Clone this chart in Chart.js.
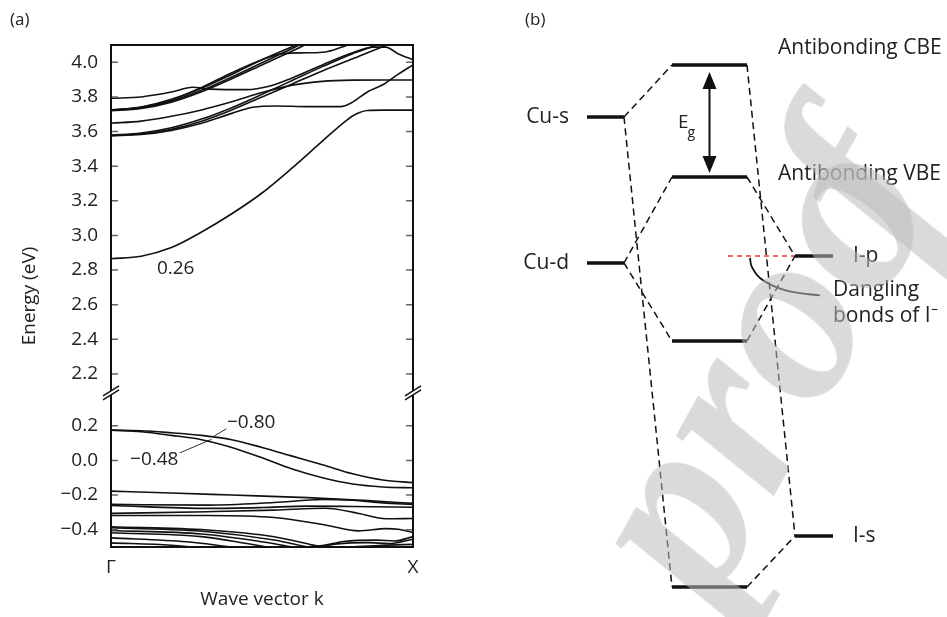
<!DOCTYPE html>
<html>
<head>
<meta charset="utf-8">
<script src="https://cdn.jsdelivr.net/npm/chart.js@4.4.1/dist/chart.umd.min.js"></script>
<style>
  html, body { margin: 0; padding: 0; background: #fff; }
  body { width: 947px; height: 617px; position: relative; overflow: hidden; font-family: "Open Sans", sans-serif; color: #222; }
  .panel { position: absolute; top: 0; height: 617px; }
  #panelA { left: 0; width: 470px; }
  #panelB { left: 470px; width: 477px; }
  .tag { position: absolute; top: 10px; font-size: 17px; line-height: 1; }
  #watermark {
    position: absolute; left: 755px; top: 357px;
    transform: translate(-50%, -50%) rotate(-61deg);
    font: italic bold 250px "Liberation Serif", serif; line-height: 1;
    color: rgba(186, 186, 186, 0.54); white-space: nowrap; pointer-events: none;
  }
  #watermark .tight { margin-left: -0.28em; }
</style>
</head>
<body>
<div class="panel" id="panelA"><canvas id="bandChart"></canvas></div>
<div class="panel" id="panelB"><canvas id="levelChart"></canvas></div>
<div class="tag" style="left:10px">(a)</div>
<div class="tag" style="left:525px">(b)</div>
<div id="watermark">proo<span class="tight">f</span></div>
<script>
// ─── BAND STRUCTURE DATA (k from Γ to X, energy in eV)
const kTicks = [0, 1];
const kLabels = ["Γ", "X"];
const upperTicks = [2.2, 2.4, 2.6, 2.8, 3.0, 3.2, 3.4, 3.6, 3.8, 4.0];
const lowerTicks = [-0.4, -0.2, 0.0, 0.2];
const upperRange = [2.09, 4.1];
const lowerRange = [-0.5, 0.39];

// conduction bands
const cb1 = [[0,2.865],[0.1,2.88],[0.2,2.93],[0.3,3.02],[0.4,3.125],[0.5,3.245],[0.6,3.39],[0.7,3.545],[0.78,3.665],[0.81,3.7],[0.85,3.722],[0.9,3.724],[1,3.724]];
const cb2 = [[0,3.575],[0.1,3.583],[0.2,3.607],[0.3,3.648],[0.4,3.705],[0.47,3.74],[0.55,3.748],[0.65,3.744],[0.76,3.744],[0.8,3.77],[0.85,3.83],[0.9,3.87],[0.95,3.93],[1,3.985]];
const cb3 = [[0,3.577],[0.1,3.587],[0.2,3.613],[0.3,3.66],[0.4,3.725],[0.5,3.8],[0.6,3.875],[0.7,3.95],[0.8,4.02],[0.9,4.09],[1,4.15]];
const cb4 = [[0,3.58],[0.1,3.592],[0.2,3.622],[0.3,3.672],[0.4,3.738],[0.5,3.815],[0.6,3.895],[0.7,3.975],[0.8,4.05],[0.88,4.1],[1,4.2]];
const cb5 = [[0,3.648],[0.1,3.66],[0.2,3.688],[0.3,3.725],[0.4,3.772],[0.5,3.825],[0.6,3.868],[0.7,3.89],[0.8,3.897],[0.9,3.898],[1,3.898]];
const cb6 = [[0,3.792],[0.1,3.8],[0.2,3.828],[0.27,3.856],[0.33,3.845],[0.45,3.842],[0.52,3.86],[0.6,3.91],[0.7,3.985],[0.8,4.055],[0.87,4.088],[0.91,4.088],[0.95,4.05],[1,4.015]];
const cb7 = [[0,3.72],[0.1,3.733],[0.2,3.77],[0.3,3.83],[0.4,3.905],[0.5,3.985],[0.6,4.065],[0.7,4.15]];
const cb8 = [[0,3.722],[0.1,3.736],[0.2,3.775],[0.3,3.838],[0.4,3.915],[0.5,3.998],[0.6,4.08],[0.7,4.165]];
const cb9 = [[0,3.724],[0.1,3.74],[0.2,3.782],[0.3,3.85],[0.4,3.93],[0.5,4.015],[0.6,4.09],[0.7,4.16]];
const cb10 = [[0,3.725],[0.1,3.742],[0.2,3.786],[0.3,3.855],[0.4,3.94],[0.5,4.015],[0.57,4.05],[0.65,4.055],[0.71,4.06],[0.76,4.085],[0.8,4.11]];
const conductionBands = [cb1, cb2, cb3, cb4, cb5, cb6, cb7, cb8, cb9, cb10];

// valence bands
const vb1 = [[0,0.175],[0.1,0.172],[0.2,0.16],[0.3,0.145],[0.4,0.12],[0.5,0.075],[0.6,0.025],[0.7,-0.025],[0.8,-0.077],[0.9,-0.113],[1,-0.128]];
const vb2 = [[0,0.175],[0.1,0.166],[0.2,0.145],[0.3,0.12],[0.4,0.075],[0.5,0.015],[0.6,-0.05],[0.7,-0.1],[0.8,-0.136],[0.9,-0.153],[1,-0.158]];
const vb3 = [[0,-0.177],[0.2,-0.188],[0.4,-0.2],[0.65,-0.215],[0.85,-0.232],[1,-0.248]];
const vb4 = [[0,-0.254],[0.32,-0.258],[0.54,-0.243],[0.7,-0.226],[0.8,-0.23],[0.9,-0.245],[1,-0.254]];
const vb5 = [[0,-0.26],[0.32,-0.277],[0.5,-0.272],[0.65,-0.264],[0.8,-0.266],[1,-0.27]];
const vb6 = [[0,-0.306],[0.32,-0.296],[0.54,-0.287],[0.71,-0.276],[0.82,-0.306],[0.91,-0.337],[1,-0.335]];
const vb7 = [[0,-0.318],[0.32,-0.318],[0.54,-0.33],[0.71,-0.373],[0.82,-0.407],[0.91,-0.394],[0.95,-0.397],[1,-0.416]];
const vb8 = [[0,-0.383],[0.32,-0.402],[0.54,-0.441],[0.67,-0.489],[0.75,-0.52]];
const vb9 = [[0,-0.389],[0.32,-0.412],[0.54,-0.46],[0.65,-0.5],[0.72,-0.52]];
const vb10 = [[0,-0.405],[0.3,-0.425],[0.5,-0.47],[0.6,-0.5],[0.68,-0.52]];
const vb11 = [[0,-0.418],[0.3,-0.44],[0.45,-0.48],[0.55,-0.51]];
const vb12 = [[0,-0.447],[0.25,-0.47],[0.4,-0.5],[0.48,-0.515]];
const vb13 = [[0,-0.476],[0.2,-0.49],[0.3,-0.505],[0.38,-0.515]];
const vb14 = [[0.55,-0.515],[0.62,-0.503],[0.7,-0.492],[0.77,-0.468],[0.88,-0.46],[0.94,-0.465],[1,-0.44]];
const vb15 = [[0.6,-0.52],[0.66,-0.508],[0.75,-0.482],[0.85,-0.475],[0.92,-0.48],[1,-0.455]];
const vb16 = [[0.8,-0.5],[0.9,-0.49],[1,-0.485]];
const valenceBands = [vb1, vb2, vb3, vb4, vb5, vb6, vb7, vb8, vb9, vb10, vb11, vb12, vb13, vb14, vb15, vb16];

// annotations (text, k, energy, axis)
const noteText = ["0.26", "−0.80", "−0.48"];
const noteK = [0.152, 0.384, 0.063];
const noteE = [2.81, 0.22, 0.006];
const noteAxis = ["yU", "yL", "yL"];
const leader080 = [[0.338, 0.137], [0.382, 0.183]];
const leader048 = [[0.228, 0.044], [0.333, 0.122]];

// ─── LEVEL DIAGRAM DATA (schematic energies, arbitrary units)
const levelNames = ["Cu-s", "Cu-d", "Antibonding CBE", "Antibonding VBE", "Bonding d", "Bonding s", "I-p", "I-s"];
const levelEnergy = [4.83, 3.37, 5.35, 4.23, 2.59, 0.13, 3.44, 0.64];
const levelColumn = [0, 0, 1, 1, 1, 1, 2, 2];
const bondPairs = [[0, 2], [0, 5], [1, 3], [1, 4], [2, 7], [3, 6], [4, 6], [5, 7]];
const danglingCurve = [[2.8, 3.42], [2.817, 3.333], [2.9, 3.22], [3.067, 3.127], [3.267, 3.073], [3.5, 3.047]];

// layout of the schematic (column extents in diagram units)
const colSpan = [[1.17, 1.54], [2.02, 2.77], [3.25, 3.63]];

const FONT = '"Open Sans", sans-serif';
const INK = "#222";
Chart.defaults.font.family = FONT;
Chart.defaults.color = INK;
Chart.defaults.animation = false;

const pts = (arr) => arr.map(([x, y]) => ({ x, y }));
const fmt = (v) => (v < 0 ? "−" + Math.abs(v).toFixed(1) : v.toFixed(1));

const bandLine = (arr, axis) => ({
  data: pts(arr),
  yAxisID: axis,
  showLine: true,
  borderColor: "#111",
  borderWidth: 1.6,
  pointRadius: 0,
  cubicInterpolationMode: "monotone",
});

// ─── PANEL A PLUGIN: frame, inward ticks, axis break, labels
const bandDecor = {
  id: "bandDecor",
  afterDatasetsDraw(chart) {
    const { ctx, chartArea: a, scales } = chart;
    ctx.save();
    ctx.strokeStyle = "#666";
    ctx.lineWidth = 1.5;
    ["yU", "yL"].forEach((id) => {
      const s = scales[id];
      s.ticks.forEach((t) => {
        const y = s.getPixelForValue(t.value);
        ctx.beginPath();
        ctx.moveTo(a.left, y); ctx.lineTo(a.left + 7, y);
        ctx.moveTo(a.right - 7, y); ctx.lineTo(a.right, y);
        ctx.stroke();
      });
    });
    ctx.strokeStyle = "#111";
    ctx.lineWidth = 2;
    ctx.strokeRect(a.left, a.top, a.width, a.height);

    // break marks
    const yb = scales.yU.bottom;
    [a.left, a.right].forEach((x) => {
      ctx.fillStyle = "#fff";
      ctx.beginPath();
      ctx.moveTo(x - 8, yb + 3); ctx.lineTo(x + 8, yb - 7);
      ctx.lineTo(x + 8, yb - 3); ctx.lineTo(x - 8, yb + 7);
      ctx.closePath(); ctx.fill();
      ctx.strokeStyle = "#111"; ctx.lineWidth = 1.5;
      ctx.beginPath();
      ctx.moveTo(x - 8, yb + 3); ctx.lineTo(x + 8, yb - 7);
      ctx.moveTo(x - 8, yb + 7); ctx.lineTo(x + 8, yb - 3);
      ctx.stroke();
    });

    // annotations
    ctx.fillStyle = INK;
    ctx.font = "19px " + FONT;
    ctx.textAlign = "left";
    ctx.textBaseline = "middle";
    noteText.forEach((t, i) => {
      ctx.fillText(t, scales.x.getPixelForValue(noteK[i]), scales[noteAxis[i]].getPixelForValue(noteE[i]));
    });

    // y title
    ctx.translate(30, (a.top + a.bottom) / 2);
    ctx.rotate(-Math.PI / 2);
    ctx.textAlign = "center";
    ctx.fillText("Energy (eV)", 0, 0);
    ctx.restore();
  },
};

const yAxis = (range, ticks, weight, order) => ({
  type: "linear",
  position: "left",
  stack: "energy",
  stackWeight: weight,
  weight: order,
  min: range[0],
  max: range[1],
  afterBuildTicks: (s) => { s.ticks = ticks.map((v) => ({ value: v })); },
  afterFit: (s) => { s.width = 111; },
  grid: { display: false, drawTicks: false },
  border: { display: false },
  ticks: { callback: (v) => fmt(v), padding: 13, font: { size: 19 }, color: INK, autoSkip: false },
});

new Chart(document.getElementById("bandChart"), {
  type: "scatter",
  data: {
    datasets: [
      ...conductionBands.map((b) => bandLine(b, "yU")),
      ...valenceBands.map((b) => bandLine(b, "yL")),
      { ...bandLine(leader080, "yL"), borderWidth: 1, borderColor: "#333", cubicInterpolationMode: "default", tension: 0 },
      { ...bandLine(leader048, "yL"), borderWidth: 1, borderColor: "#333", cubicInterpolationMode: "default", tension: 0 },
    ],
  },
  options: {
    responsive: true,
    maintainAspectRatio: false,
    layout: { padding: { left: 0, right: 57, top: 45, bottom: 0 } },
    plugins: { legend: { display: false }, tooltip: { enabled: false } },
    scales: {
      x: {
        type: "linear",
        min: 0,
        max: 1,
        afterBuildTicks: (s) => { s.ticks = kTicks.map((v) => ({ value: v })); },
        afterFit: (s) => { s.height = 70; },
        grid: { display: false, drawTicks: false },
        border: { display: false },
        ticks: { callback: (v, i) => kLabels[i], font: { size: 19 }, color: INK, padding: 9, maxRotation: 0, autoSkip: false },
        title: { display: true, text: "Wave vector k", font: { size: 19 }, color: INK, padding: { top: 0, bottom: 6 } },
      },
      yU: yAxis(upperRange, upperTicks, upperRange[1] - upperRange[0], 1),
      yL: yAxis(lowerRange, lowerTicks, lowerRange[1] - lowerRange[0], 0),
    },
  },
  plugins: [bandDecor],
});

// ─── PANEL B: level diagram
const levelLine = (i) => ({
  data: pts(colSpan[levelColumn[i]].map((x) => [x, levelEnergy[i]])),
  showLine: true,
  borderColor: "#111",
  borderWidth: 3.4,
  borderCapStyle: "butt",
  pointRadius: 0,
});

const bondLine = ([a, b]) => ({
  data: pts([[colSpan[levelColumn[a]][1], levelEnergy[a]], [colSpan[levelColumn[b]][0], levelEnergy[b]]]),
  showLine: true,
  borderColor: "#111",
  borderWidth: 1.5,
  borderDash: [7, 4.5],
  pointRadius: 0,
});

const levelDecor = {
  id: "levelDecor",
  afterDatasetsDraw(chart) {
    const { ctx, scales: { x, y } } = chart;
    const px = (v) => x.getPixelForValue(v);
    const py = (v) => y.getPixelForValue(v);
    ctx.save();

    // band gap arrow
    const ax = px((colSpan[1][0] + colSpan[1][1]) / 2);
    const yTop = py(levelEnergy[2]) + 7;
    const yBot = py(levelEnergy[3]) - 4;
    ctx.strokeStyle = "#111";
    ctx.fillStyle = "#111";
    ctx.lineWidth = 2;
    ctx.beginPath(); ctx.moveTo(ax, yTop + 10); ctx.lineTo(ax, yBot - 10); ctx.stroke();
    ctx.beginPath(); ctx.moveTo(ax, yTop); ctx.lineTo(ax - 7, yTop + 17); ctx.lineTo(ax + 7, yTop + 17); ctx.closePath(); ctx.fill();
    ctx.beginPath(); ctx.moveTo(ax, yBot); ctx.lineTo(ax - 7, yBot - 17); ctx.lineTo(ax + 7, yBot - 17); ctx.closePath(); ctx.fill();

    ctx.fillStyle = INK;
    ctx.textBaseline = "middle";
    const egY = (py(levelEnergy[2]) + py(levelEnergy[3])) / 2;
    ctx.font = "19px " + FONT;
    ctx.textAlign = "right";
    ctx.fillText("E", ax - 21, egY + 2);
    ctx.font = "14px " + FONT;
    ctx.textAlign = "left";
    ctx.fillText("g", ax - 22, egY + 12);

    // level names
    ctx.font = "21px " + FONT;
    [0, 1].forEach((i) => {
      ctx.textAlign = "right";
      ctx.fillText(levelNames[i], px(colSpan[0][0]) - 18, py(levelEnergy[i]));
    });
    [6, 7].forEach((i) => {
      ctx.textAlign = "left";
      ctx.fillText(levelNames[i], px(colSpan[2][1]) + 20, py(levelEnergy[i]));
    });
    ctx.textAlign = "left";
    ctx.fillText(levelNames[2], px(colSpan[1][1]) + 31, py(levelEnergy[2]) - 17);
    ctx.fillText(levelNames[3], px(colSpan[1][1]) + 31, py(levelEnergy[3]) - 3);
    const end = danglingCurve[danglingCurve.length - 1];
    ctx.fillText("Dangling", px(end[0]) + 13, py(end[1]) - 5);
    ctx.fillText("bonds of I⁻", px(end[0]) + 13, py(end[1]) + 21);
    ctx.restore();
  },
};

new Chart(document.getElementById("levelChart"), {
  type: "scatter",
  data: {
    datasets: [
      ...levelEnergy.map((_, i) => levelLine(i)),
      ...bondPairs.map(bondLine),
      {
        data: pts([[2.58, levelEnergy[6]], [colSpan[2][0], levelEnergy[6]]]),
        showLine: true,
        borderColor: "#e33b3b",
        borderWidth: 1.5,
        borderDash: [5, 4],
        pointRadius: 0,
      },
      {
        data: pts(danglingCurve),
        showLine: true,
        borderColor: "#111",
        borderWidth: 1.8,
        tension: 0.4,
        pointRadius: 0,
      },
    ],
  },
  options: {
    responsive: true,
    maintainAspectRatio: false,
    layout: { padding: 0 },
    plugins: { legend: { display: false }, tooltip: { enabled: false } },
    scales: {
      x: { type: "linear", min: 0, max: 4.77, display: false },
      y: { type: "linear", min: -0.17, max: 6.0, display: false },
    },
  },
  plugins: [levelDecor],
});
</script>
</body>
</html>
